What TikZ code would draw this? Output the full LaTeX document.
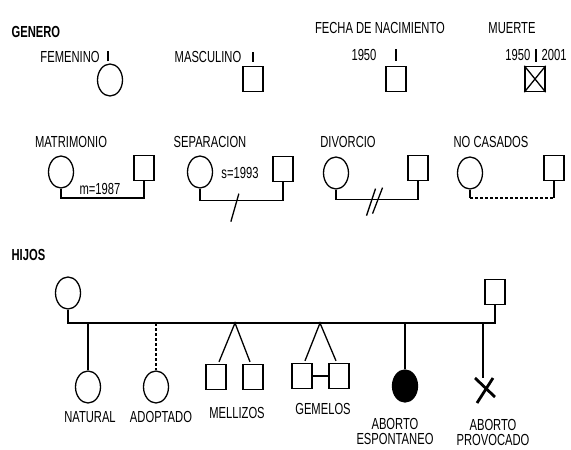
\documentclass[tikz,border=0pt]{standalone}
\usepackage{fontspec}
\setmainfont{Liberation Sans}[FakeStretch=0.7]
\usepackage{tikz}
\usetikzlibrary{shapes.geometric,positioning,calc}

\begin{document}
\begin{tikzpicture}[x=1pt, y=-1pt, line width=1.3pt,
    every node/.style={font=\fontsize{16}{15}\selectfont, inner sep=0pt, align=center},
    title/.style={font=\fontsize{16}{15}\selectfont\bfseries},
    fem/.style={draw, ellipse, minimum width=25pt, minimum height=32pt},
    masc/.style={draw, rectangle, minimum width=20pt, minimum height=25pt}]
    \fill[white] (0,0) rectangle (571,450);
    \useasboundingbox (0,0) rectangle (571,450);

    % genero
    \node[title, anchor=west] (genero) at (11,32) {GENERO};
    \node (femt) at (70,57) {FEMENINO};
    \node[fem] (fem) at (110,80) {};
    \draw (fem.north) ++(-2,-2) -- ++(0,-10);
    \node (mast) at (208,57) {MASCULINO};
    \node[masc] (masc) at (253,79) {};
    \draw (masc.north) ++(0,-4) -- ++(0,-10);
    \node (fecht) at (380,28) {FECHA DE NACIMIENTO};
    \node (fechy) at (364,55) {1950};
    \node[masc] (fech) at (396,79) {};
    \draw (fech.north) ++(0,-5) -- ++(0,-12);
    \node (muert) at (512,28) {MUERTE};
    \node[masc] (muer) at (535,79) {};
    \draw (muer.north west) -- (muer.south east) (muer.north east) -- (muer.south west);
    \draw (muer.north) ++(1,-4) coordinate (tick) -- ++(0,-13);
    \node[anchor=east] (muery) at ($(tick)+(-5,-7)$) {1950};
    \node[anchor=west] (muerd) at ($(tick)+(5,-7)$) {2001};

    % parejas
    \coordinate (pline) at (0,198);
    \node (matt) at (71,142) {MATRIMONIO};
    \node[fem] (matf) at (61,172) {};
    \node[masc] (matm) at (144,168) {};
    \draw (matf.south) -- (matf.south |- pline) -| (matm.south);
    \node (maty) at (100,189) {m=1987};

    \node (sept) at (210,142) {SEPARACION};
    \node[fem] (sepf) at (200,172) {};
    \node[masc] (sepm) at (283,169) {};
    \draw (sepf.south) -- ++(0,12) coordinate (sepl) -| (sepm.south);
    \node (sepy) at (240,173) {s=1993};
    \coordinate (sepx) at ($(sepl)!0.42!(sepl -| sepm.south)$);
    \draw ($(sepx)+(-4,21)$) -- ($(sepx)+(4,-7)$);

    \node (divt) at (348,142) {DIVORCIO};
    \node[fem] (divf) at (336,173) {};
    \node[masc] (divm) at (418,168) {};
    \draw (divf.south) -- ++(0,10) coordinate (divl) -| (divm.south);
    \coordinate (divx) at ($(divl)!0.47!(divl -| divm.south)$);
    \draw ($(divx)+(-8,16)$) -- ($(divx)+(1,-11)$);
    \draw ($(divx)+(-2,14)$) -- ($(divx)+(8,-12)$);

    \node (noct) at (491,142) {NO CASADOS};
    \node[fem] (nocf) at (470,173) {};
    \node[masc] (nocm) at (554,168) {};
    \draw (nocf.south) -- (nocf.south |- pline);
    \draw[densely dashed] (nocf.south |- pline) -- (nocm.south |- pline);
    \draw (nocm.south |- pline) -- (nocm.south);

    % hijos
    \node[title, anchor=west] (hijos) at (11,255) {HIJOS};
    \node[fem] (madre) at (68,293) {};
    \node[masc] (padre) at (495,292) {};
    \coordinate (bar) at (0,323);
    \draw (madre.south) |- (padre.south |- bar) -- (padre.south);

    \node[fem] (nat) at (88,387) {};
    \draw (nat.north |- bar) -- (nat.north);
    \node (natt) at (90,417) {NATURAL};

    \node[fem] (adop) at (156,387) {};
    \draw[densely dashed] (adop.north |- bar) -- (adop.north);
    \node (adopt) at (161,417) {ADOPTADO};

    \coordinate (mell) at (235,323);
    \node[masc] (mell1) at (216,377) {};
    \node[masc] (mell2) at (253,377) {};
    \draw ($(mell1.north)+(3,-2)$) -- (mell) -- ($(mell2.north)+(-3,-2)$);
    \node (mellt) at (237,413) {MELLIZOS};

    \coordinate (gem) at (320,323);
    \node[masc] (gem1) at (302,376) {};
    \node[masc] (gem2) at (339,376) {};
    \draw ($(gem1.north)+(3,-2)$) -- (gem) -- ($(gem2.north)+(-3,-2)$);
    \draw (gem1) -- (gem2);
    \node (gemt) at (323,409) {GEMELOS};

    \node[fem, fill=black] (esp) at (405,386) {};
    \draw (esp.north |- bar) -- (esp.north);
    \node (espt) at (395,431) {ABORTO\\ESPONTANEO};

    \coordinate (prov) at (485,390);
    \draw (prov |- bar) ++(-2,0) -- ++(0,55);
    \draw[line width=2.8pt] ($(prov)+(-10,-12)$) -- ($(prov)+(10,7)$);
    \draw[line width=2.8pt] ($(prov)+(8,-12)$) -- ($(prov)+(-8,13)$);
    \node (provt) at (493,432) {ABORTO\\PROVOCADO};
\end{tikzpicture}
\end{document}
